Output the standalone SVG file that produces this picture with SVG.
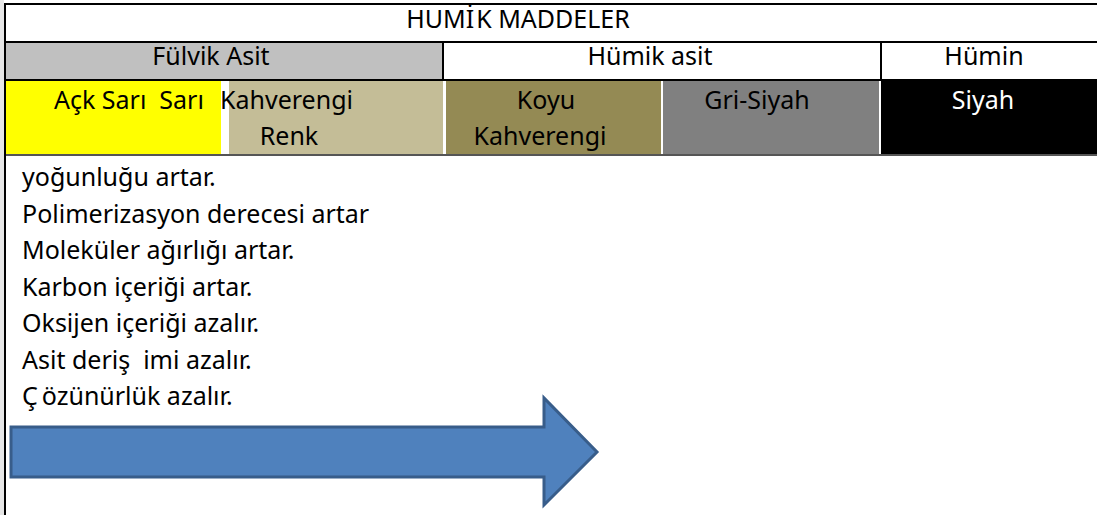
<svg xmlns="http://www.w3.org/2000/svg" width="1097" height="515" viewBox="0 0 1097 515">
<style>
.t{font-family:"Noto Sans","Open Sans","DejaVu Sans",sans-serif;font-size:25px;fill:#000}
.c{text-anchor:middle}
.w{fill:#fff}
.ln{stroke:#000;stroke-width:2;fill:none}
</style>
<rect x="0" y="0" width="1097" height="515" fill="#fff"/>
<rect x="0" y="0" width="4" height="515" fill="#e6e6e6"/>
<g id="header">
<rect x="5" y="4" width="1092" height="38" fill="#fff"/>
<text class="t c" x="518" y="28">HUMİ<tspan dx="2">K</tspan> MADDELER</text>
</g>
<g id="fulvik">
<rect x="5" y="42" width="438" height="38" fill="#c0c0c0"/>
<text class="t c" x="211" y="65">Fülvik Asit</text>
</g>
<g id="humik">
<rect x="443" y="42" width="438" height="38" fill="#fff"/>
<text class="t c" x="650" y="65">Hümik asit</text>
</g>
<g id="humin">
<rect x="881" y="42" width="216" height="38" fill="#fff"/>
<text class="t c" x="984" y="65">Hümin</text>
</g>
<g id="sari">
<rect x="5" y="80" width="216" height="75" fill="#ffff00"/>
</g>
<g id="kahverengi">
<rect x="229" y="80" width="214" height="75" fill="#c4bd97"/>
<text class="t" x="54" y="109" xml:space="preserve">Açk Sarı  Sarı <tspan x="220">Kahverengi</tspan></text>
<text class="t c" x="289" y="145">Renk</text>
</g>
<g id="koyu">
<rect x="446" y="80" width="215" height="75" fill="#948a54"/>
<text class="t c" x="546" y="109">Koyu</text>
<text class="t c" x="540" y="145">Kahverengi</text>
</g>
<g id="grisiyah">
<rect x="663" y="80" width="216" height="75" fill="#808080"/>
<text class="t c" x="757" y="109">Gri-Siyah</text>
</g>
<g id="siyah">
<rect x="881" y="80" width="216" height="75" fill="#000"/>
<text class="t c w" x="983" y="109">Siyah</text>
</g>
<g id="lines">
<line class="ln" x1="4" y1="4" x2="1097" y2="4"/>
<line class="ln" x1="5" y1="42" x2="1097" y2="42"/>
<line class="ln" x1="5" y1="80" x2="1097" y2="80"/>
<line x1="5" y1="155" x2="1097" y2="155" stroke="#555" stroke-width="2"/>
<line class="ln" x1="5" y1="3" x2="5" y2="515"/>
<line class="ln" x1="443" y1="42" x2="443" y2="80"/>
<line class="ln" x1="881" y1="42" x2="881" y2="80"/>
</g>
<g id="properties">
<text class="t" x="22" y="186">yoğunluğu artar.</text>
<text class="t" x="22" y="222.5">Polimerizasyon derecesi artar</text>
<text class="t" x="22" y="259">Moleküler ağırlığı artar.</text>
<text class="t" x="22" y="295.5">Karbon içeriği artar.</text>
<text class="t" x="22" y="332">Oksijen içeriği azalır.</text>
<text class="t" x="22" y="368.5" xml:space="preserve">Asit deriş  imi azalır.</text>
<text class="t" x="22" y="405">Ç<tspan dx="4">özünürlük azalır.</tspan></text>
</g>
<g id="connectors">
<path d="M11,427 L544,427 L544,398 L597,452 L544,505 L544,477 L11,477 Z" fill="#4f81bd" stroke="#385d8a" stroke-width="3" stroke-linejoin="miter"/>
</g>
</svg>
